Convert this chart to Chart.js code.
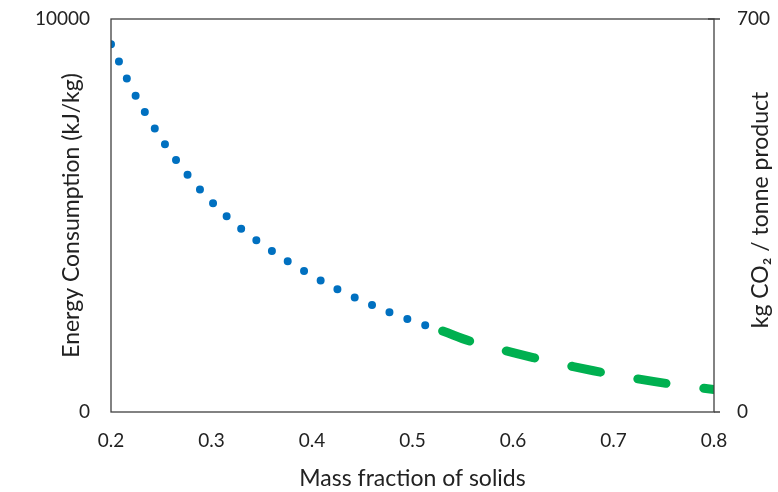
<!DOCTYPE html>
<html>
<head>
<meta charset="utf-8">
<script src="https://cdn.jsdelivr.net/npm/chart.js@4"></script>
<style>
  html, body { margin: 0; padding: 0; background: #fff; }
  #wrap { width: 778px; height: 492px; }
</style>
</head>
<body>
<div id="wrap"><canvas id="energyChart"></canvas></div>
<script>
// mass fraction of solids (x) and energy consumption
var blueX = [0.20, 0.22, 0.24, 0.26, 0.28, 0.30, 0.32, 0.34, 0.36, 0.38, 0.40, 0.42, 0.44, 0.46, 0.48, 0.50, 0.52, 0.53];
var blueY = [9360, 8270, 7360, 6580, 5920, 5350, 4870, 4460, 4100, 3770, 3470, 3190, 2940, 2720, 2510, 2320, 2140, 2060];
var greenX = [0.53, 0.56, 0.60, 0.64, 0.68, 0.72, 0.76, 0.80];
var greenY = [2060, 1780, 1510, 1270, 1050, 860, 700, 570];

var leftTicks = [0, 10000];
var rightTicks = [0, 700];
var rightTitle = 'kg CO₂ / tonne product';

function toPoints(xs, ys) {
    return xs.map(function (x, i) { return { x: x, y: ys[i] }; });
}

Chart.defaults.font.family = 'Lato';
Chart.defaults.color = '#222';

// frame round the plot area, right tick marks, right title read bottom to top
var framePlugin = {
    id: 'frame',
    afterDraw: function (chart) {
        var a = chart.chartArea;
        var ctx = chart.ctx;
        var y2 = chart.scales.y2;
        ctx.save();
        ctx.strokeStyle = '#404040';
        ctx.lineWidth = 1.3;
        ctx.strokeRect(a.left, a.top, a.right - a.left, a.bottom - a.top);

        ctx.beginPath();
        rightTicks.forEach(function (v) {
            var py = y2.getPixelForValue(v);
            ctx.moveTo(a.right - (v > 0 ? 6 : 0), py);
            ctx.lineTo(a.right + 6, py);
        });
        ctx.stroke();

        ctx.translate(761, 210);
        ctx.rotate(-Math.PI / 2);
        ctx.fillStyle = '#222';
        ctx.font = '23px Lato';
        ctx.textAlign = 'center';
        ctx.textBaseline = 'middle';
        ctx.fillText(rightTitle, 0, 0);
        ctx.restore();
    }
};

var ctx = document.getElementById('energyChart').getContext('2d');
var energyChart = new Chart(ctx, {
    type: 'line',
    data: {
        datasets: [{
            label: 'Energy',
            data: toPoints(blueX, blueY),
            borderColor: '#0070C0',
            borderWidth: 8,
            borderDash: [0, 19],
            borderCapStyle: 'round',
            pointRadius: 0,
            tension: 0.4,
            fill: false,
            yAxisID: 'y'
        },
        {
            label: 'CO2',
            data: toPoints(greenX, greenY),
            borderColor: '#00B050',
            borderWidth: 9,
            borderDash: [29, 38],
            borderCapStyle: 'round',
            pointRadius: 0,
            tension: 0.4,
            fill: false,
            yAxisID: 'y'
        }]
    },
    options: {
        responsive: true,
        maintainAspectRatio: false,
        animation: false,
        layout: { padding: { top: 19, left: 0, right: 0, bottom: 0 } },
        plugins: {
            legend: { display: false },
            tooltip: { enabled: false }
        },
        scales: {
            x: {
                type: 'linear',
                min: 0.2,
                max: 0.8,
                ticks: {
                    stepSize: 0.1,
                    padding: 17,
                    font: { size: 19 },
                    callback: function (v) { return v.toFixed(1); }
                },
                grid: { display: false, drawTicks: false },
                border: { display: false },
                title: {
                    display: true,
                    text: 'Mass fraction of solids',
                    font: { size: 23 },
                    padding: { top: 0, bottom: 0 }
                },
                afterFit: function (scale) { scale.height = 80; }
            },
            y: {
                position: 'left',
                min: 0,
                max: 10000,
                afterBuildTicks: function (scale) {
                    scale.ticks = leftTicks.map(function (v) { return { value: v }; });
                },
                ticks: {
                    padding: 3,
                    font: { size: 19 },
                    callback: function (v) { return String(v); }
                },
                grid: { display: false, drawTicks: true, tickLength: 18 },
                border: { display: false },
                title: {
                    display: true,
                    text: 'Energy Consumption (kJ/kg)',
                    font: { size: 23 },
                    padding: { top: 58, bottom: 0 }
                },
                afterFit: function (scale) { scale.width = 111; }
            },
            y2: {
                position: 'right',
                min: 0,
                max: 700,
                afterBuildTicks: function (scale) {
                    scale.ticks = rightTicks.map(function (v) { return { value: v }; });
                },
                ticks: { padding: 3, font: { size: 19 } },
                grid: { display: false, drawTicks: true, tickLength: 20 },
                border: { display: false },
                title: { display: false },
                afterFit: function (scale) { scale.width = 64; }
            }
        }
    },
    plugins: [framePlugin]
});
</script>
</body>
</html>
